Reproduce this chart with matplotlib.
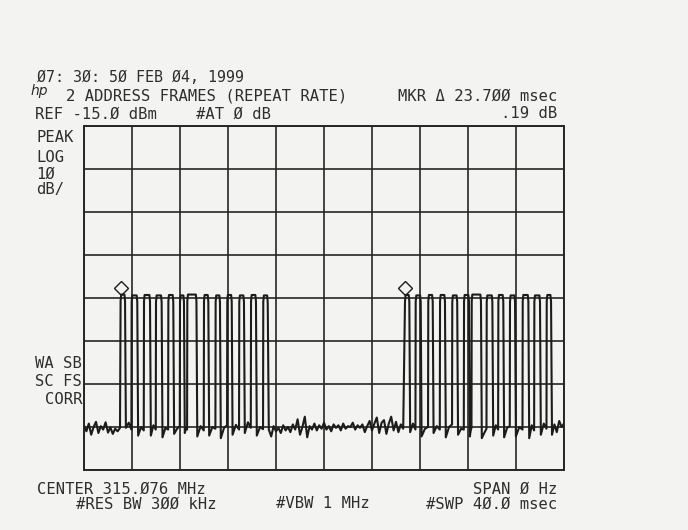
import numpy as np
import matplotlib.pyplot as plt

# Nastawy analizatora widma
ref_level = -15.0      # dBm, gorna linia siatki
db_div = 10            # dB na dzialke
n_div_y = 8
sweep_ms = 40.0
n_div_x = 10

# Zbocza impulsow (ms) - pierwsza ramka
burst1_on = [3.05, 3.97, 5.00, 6.00, 7.03, 8.00, 8.61, 10.00, 10.97, 11.94, 12.94, 13.92, 14.94]
burst1_off = [3.42, 4.44, 5.50, 6.47, 7.44, 8.33, 9.37, 10.36, 11.33, 12.31, 13.33, 14.33, 15.31]
burst1_peak = [-54.2, -54.4, -54.3, -54.4, -54.3, -54.4, -54.2, -54.3, -54.4, -54.3, -54.4, -54.3, -54.4]
burst1_gaps = [[-85.2, -84.0, -85.6], [-87.0, -85.0, -85.8], [-87.0, -84.6, -85.6],
               [-87.4, -85.2, -85.6], [-86.6, -85.4, -84.8], [-86.4, -85.2, -85.6],
               [-87.2, -84.8, -85.8], [-87.0, -85.0, -85.4], [-87.6, -85.2, -84.6],
               [-86.8, -84.5, -85.6], [-86.4, -83.9, -85.2], [-87.0, -85.0, -85.5]]

# druga ramka
burst2_on = [26.75, 27.64, 28.69, 29.67, 30.69, 31.67, 32.31, 33.56, 34.53, 35.50, 36.56, 37.53, 38.56]
burst2_off = [27.11, 28.06, 29.06, 30.08, 31.10, 32.08, 33.08, 34.03, 34.94, 35.92, 37.03, 38.00, 38.92]
burst2_peak = [-54.3, -54.4, -54.3, -54.3, -54.4, -54.3, -54.2, -54.4, -54.3, -54.4, -54.3, -54.4, -54.3]
burst2_gaps = [[-86.2, -84.2, -85.6], [-87.2, -85.4, -85.0], [-86.4, -84.8, -85.6],
               [-87.4, -85.0, -84.4], [-86.8, -85.4, -85.6], [-87.2, -85.8, -85.2],
               [-87.6, -86.4, -85.4], [-87.0, -84.6, -85.6], [-87.4, -85.2, -84.8],
               [-87.2, -85.0, -85.6], [-87.6, -84.6, -85.8], [-86.8, -84.2, -85.4]]

# szum tla (dBm), probki co 0.2 ms
floor_a_start = 0.0
floor_a = [-84.6, -86.0, -84.2, -86.8, -85.0, -83.8, -86.4, -84.8,
           -85.6, -83.9, -86.3, -85.1, -86.6, -85.4, -86.0, -85.2]
floor_b_start = 15.4
floor_b = [-85.6, -87.2, -84.8, -86.0, -85.2, -86.4, -84.6, -85.8, -85.0, -86.2,
           -84.4, -85.6, -83.2, -86.8, -85.0, -82.6, -87.4, -84.8, -85.6, -84.2,
           -85.8, -84.6, -85.4, -84.0, -85.6, -84.8, -86.0, -84.4, -85.2, -84.6,
           -85.8, -84.2, -85.4, -84.8, -85.0, -84.0, -85.6, -84.6, -85.2, -84.4,
           -86.2, -84.8, -83.6, -85.8, -84.2, -82.8, -86.4, -84.0, -83.4, -86.6,
           -84.2, -82.6, -85.8, -83.8, -86.2, -84.4, -85.4]
floor_c_start = 39.0
floor_c = [-86.8, -84.4, -86.2, -83.6, -85.0, -84.2]
floor_step = 0.2

# markery
marker_ms = [3.05, 26.75]
marker_db = [-52.6, -52.6]


def add_floor(start, vals, t, v):
    for i, val in enumerate(vals):
        t.append(start + i * floor_step)
        v.append(val)


def add_burst(on, off, peak, gaps, t, v):
    for i in range(len(on)):
        t += [on[i], on[i] + 0.05, off[i] - 0.05, off[i]]
        v += [peak[i] - 1.5, peak[i], peak[i], peak[i] - 1.5]
        if i < len(gaps):
            dip, mid, pre = gaps[i]
            nxt = on[i + 1]
            t += [off[i] + 0.07, (off[i] + 0.07 + nxt) / 2, nxt - 0.02]
            v += [dip, mid, pre]


t, v = [], []
add_floor(floor_a_start, floor_a, t, v)
add_burst(burst1_on, burst1_off, burst1_peak, burst1_gaps, t, v)
add_floor(floor_b_start, floor_b, t, v)
add_burst(burst2_on, burst2_off, burst2_peak, burst2_gaps, t, v)
add_floor(floor_c_start, floor_c, t, v)

bg = '#f3f3f1'
ink = '#2e2e2e'

fig = plt.figure(figsize=(6.88, 5.30), dpi=100, facecolor=bg)
ax = fig.add_axes([84 / 688, 60 / 530, 480 / 688, 344 / 530])
ax.set_facecolor(bg)

ax.plot(t, v, color='#1c1c1c', lw=1.5)
ax.plot(marker_ms, marker_db, linestyle='none', marker='D', ms=7,
        mfc='none', mec='#1c1c1c', mew=1.0)

ax.set_xlim(0, sweep_ms)
ax.set_ylim(ref_level - n_div_y * db_div, ref_level)
ax.set_xticks(np.linspace(0, sweep_ms, n_div_x + 1))
ax.set_yticks(np.linspace(ref_level - n_div_y * db_div, ref_level, n_div_y + 1))
ax.set_xticklabels([])
ax.set_yticklabels([])
ax.tick_params(length=0)
ax.grid(True, color='#262626', lw=1.2)
for s in ax.spines.values():
    s.set_color('#262626')
    s.set_linewidth(1.4)

mono = 'DejaVu Sans Mono'


def txt(x, y, s, ha='left', size=11.2):
    fig.text(x / 688, 1 - y / 530, s, ha=ha, va='center', family=mono,
             fontsize=size, color=ink)


txt(37, 77, 'Ø7: 3Ø: 5Ø FEB Ø4, 1999', size=10.8)
fig.text(31 / 688, 1 - 91 / 530, 'hp', ha='left', va='center', style='italic',
         fontsize=10, color=ink)
txt(66, 96, '2 ADDRESS FRAMES (REPEAT RATE)')
txt(557, 96, 'MKR Δ 23.7ØØ msec', ha='right')
txt(35, 114, 'REF -15.Ø dBm')
txt(196, 114, '#AT Ø dB')
txt(557, 114, '.19 dB', ha='right')

txt(36, 137, 'PEAK')
txt(36, 157, 'LOG')
txt(36, 174, '1Ø')
txt(36, 190, 'dB/')
txt(82, 364, 'WA SB', ha='right')
txt(82, 382, 'SC FS', ha='right')
txt(82, 399, 'CORR', ha='right')

txt(37, 489, 'CENTER 315.Ø76 MHz')
txt(557, 489, 'SPAN Ø Hz', ha='right')
txt(76, 504, '#RES BW 3ØØ kHz')
txt(276, 504, '#VBW 1 MHz')
txt(557, 504, '#SWP 4Ø.Ø msec', ha='right')

fig.savefig('out.png', dpi=100, facecolor=bg)
